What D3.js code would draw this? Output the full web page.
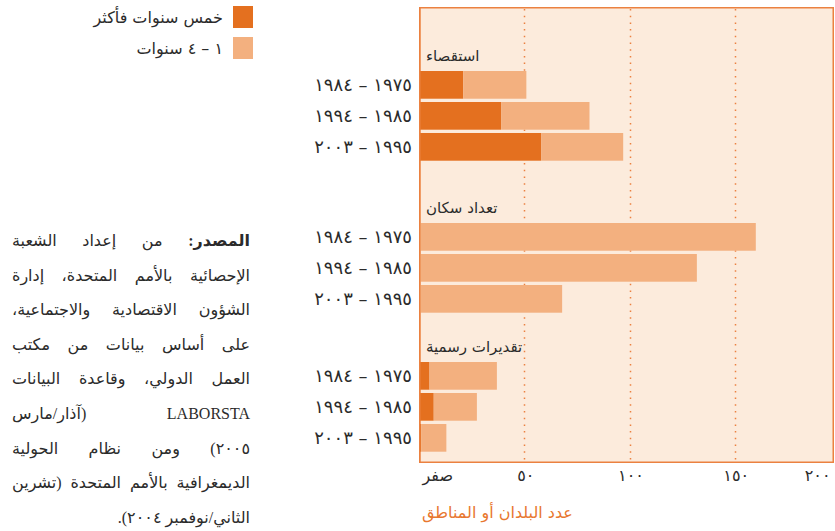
<!DOCTYPE html>
<html>
<head>
<meta charset="utf-8">
<script src="https://cdn.jsdelivr.net/npm/d3@7"></script>
<style>
  body { margin: 0; background: #fff; }
  svg { display: block; font-family: "DejaVu Sans", sans-serif; }
</style>
</head>
<body>
<div id="canvas"></div>
<script>
// data
const groups = ["استقصاء", "تعداد سكان", "تقديرات رسمية"];
const periods = ["١٩٧٥ – ١٩٨٤", "١٩٨٥ – ١٩٩٤", "١٩٩٥ – ٢٠٠٣"];
const fiveYearsPlus = [[21, 39, 58], [0, 0, 0], [5, 7, 1]];
const oneToFour = [[30, 42, 39], [160, 132, 68], [32, 20.5, 12]];
const seriesNames = ["خمس سنوات فأكثر", "١ – ٤ سنوات"];
const tickValues = [0, 50, 100, 150, 200];
const tickLabels = ["صفر", "٥٠", "١٠٠", "١٥٠", "٢٠٠"];
const axisTitle = "عدد البلدان أو المناطق";
const sourceLines = [
  "من إعداد الشعبة",
  "الإحصائية بالأمم المتحدة، إدارة",
  "الشؤون الاقتصادية والاجتماعية،",
  "على أساس بيانات من مكتب",
  "العمل الدولي، وقاعدة البيانات",
  "LABORSTA (آذار/مارس",
  "٢٠٠٥) ومن نظام الحولية",
  "الديمغرافية بالأمم المتحدة (تشرين",
  "الثاني/نوفمبر ٢٠٠٤)."
];
const sourceLead = "المصدر:";

const width = 835;
const height = 531;
const colors = ["#e4701f", "#f3b07f"];
const accent = "#eb8140";

const svg = d3.select("#canvas").append("svg")
  .attr("width", width)
  .attr("height", height);

// table for stacking
const rows = [];
groups.forEach((g, gi) => {
  periods.forEach((p, pi) => {
    rows.push({ group: gi, period: p, five: fiveYearsPlus[gi][pi], one: oneToFour[gi][pi] });
  });
});
const stacked = d3.stack().keys(["five", "one"])(rows);

const panel = { left: 419, top: 7, right: 834, bottom: 463 };
const xScale = d3.scaleLinear().domain([0, 200]).range([panel.left, 840]);
const rowScale = d3.scaleBand().domain(periods).range([0, 89.7]).paddingInner(0.106);
const groupTop = [71, 223, 362];
const yPos = (d) => groupTop[d.group] + rowScale(d.period);

// panel
svg.append("rect")
  .attr("x", panel.left + 0.75)
  .attr("y", panel.top + 0.75)
  .attr("width", panel.right - panel.left - 1.5)
  .attr("height", panel.bottom - panel.top - 1.5)
  .attr("fill", "#fcebdc")
  .attr("stroke", accent)
  .attr("stroke-width", 1.5);

// gridlines
svg.append("g").selectAll("line")
  .data(tickValues.filter((d) => d > 0 && d < 200))
  .enter().append("line")
  .attr("x1", (d) => Math.round(xScale(d)) + 0.5)
  .attr("x2", (d) => Math.round(xScale(d)) + 0.5)
  .attr("y1", panel.top + 2)
  .attr("y2", panel.bottom - 1)
  .attr("stroke", accent)
  .attr("stroke-width", 1.5)
  .attr("stroke-dasharray", "1.5,5.2");

// bars
svg.append("g").selectAll("g")
  .data(stacked)
  .enter().append("g")
  .attr("fill", (d, i) => colors[i])
  .selectAll("rect")
  .data((d) => d)
  .enter().append("rect")
  .attr("x", (d) => xScale(d[0]))
  .attr("y", (d) => yPos(d.data))
  .attr("width", (d) => xScale(d[1]) - xScale(d[0]))
  .attr("height", rowScale.bandwidth());

// left edge line over bars
svg.append("line")
  .attr("x1", panel.left + 0.75).attr("x2", panel.left + 0.75)
  .attr("y1", panel.top).attr("y2", panel.bottom)
  .attr("stroke", accent).attr("stroke-width", 1.5);

// group headers
svg.append("g").selectAll("text")
  .data(groups)
  .enter().append("text")
  .attr("x", 426)
  .attr("y", (d, i) => groupTop[i] - 10)
  .attr("font-size", 15)
  .attr("fill", "#2b2b2b")
  .text((d) => d);

// row labels
svg.append("g").selectAll("text")
  .data(rows)
  .enter().append("text")
  .attr("x", 412)
  .attr("y", (d) => yPos(d) + rowScale.bandwidth() / 2)
  .attr("dy", "0.36em")
  .attr("text-anchor", "end")
  .attr("font-size", 18)
  .attr("letter-spacing", 4.5)
  .attr("fill", "#2b2b2b")
  .text((d) => d.period);

// x axis
const xAxis = svg.append("g")
  .attr("transform", `translate(0,${panel.bottom})`)
  .call(d3.axisBottom(xScale).tickValues(tickValues).tickSize(0).tickPadding(7)
    .tickFormat((d, i) => tickLabels[i]));
xAxis.select(".domain").remove();
xAxis.selectAll("text")
  .attr("font-family", "DejaVu Sans, sans-serif")
  .attr("font-size", 16)
  .attr("fill", "#2b2b2b")
  .attr("letter-spacing", (d, i) => (i === 0 ? 0 : 3))
  .attr("text-anchor", (d, i) => (i === 0 ? "start" : i === tickValues.length - 1 ? "end" : "middle"))
  .attr("x", (d, i) => (i === 0 ? 3 : i === tickValues.length - 1 ? -10 : 1));

svg.append("text")
  .attr("x", 422)
  .attr("y", 518)
  .attr("font-size", 16)
  .attr("fill", "#e8772f")
  .text(axisTitle);

// legend
const legend = svg.append("g").selectAll("g")
  .data(seriesNames)
  .enter().append("g")
  .attr("transform", (d, i) => `translate(233,${6 + i * 31})`);
legend.append("rect")
  .attr("width", 20)
  .attr("height", 22)
  .attr("fill", (d, i) => colors[i]);
legend.append("text")
  .attr("x", -10)
  .attr("y", 11)
  .attr("dy", "0.36em")
  .attr("text-anchor", "end")
  .attr("font-size", 16)
  .attr("letter-spacing", (d, i) => (i === 1 ? 3 : 0))
  .attr("fill", "#2b2b2b")
  .text((d) => d);

// source note, right-to-left, justified by word spacing
const noteRight = 250;
const noteLeft = 12;
const note = svg.append("g")
  .attr("font-family", "Liberation Serif, DejaVu Sans, serif")
  .attr("fill", "#2b2b2b");
sourceLines.forEach((line, i) => {
  const t = note.append("text")
    .attr("x", noteRight)
    .attr("y", 246 + i * 34.6)
    .attr("direction", "rtl")
    .attr("text-anchor", "start")
    .attr("font-size", 16);
  if (i === 0) {
    t.append("tspan").attr("font-weight", "bold").text(sourceLead + " ");
  }
  t.append("tspan").text(line);
  if (i < sourceLines.length - 1) {
    const full = (i === 0 ? sourceLead + " " : "") + line;
    const gaps = full.split(" ").length - 1;
    const w = t.node().getComputedTextLength();
    const extra = (noteRight - noteLeft) - w;
    if (gaps > 0) t.attr("word-spacing", extra / gaps);
  }
});
</script>
</body>
</html>
